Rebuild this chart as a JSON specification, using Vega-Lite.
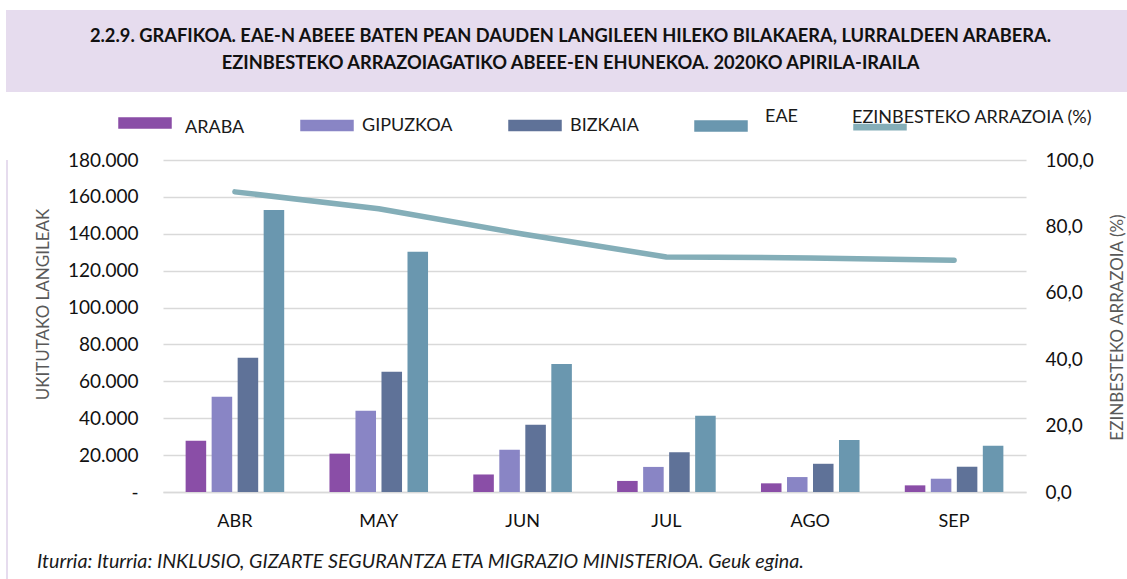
{
  "$schema": "https://vega.github.io/schema/vega-lite/v6.json",
  "padding": {"left": 6, "top": 10, "right": 0, "bottom": 0},
  "background": "white",
  "spacing": 4,
  "columns": 1,
  "align": "none",
  "resolve": {"scale": {"color": "independent"}, "legend": {"color": "independent"}},
  "config": {
    "font": "Lato",
    "view": {"stroke": null},
    "axis": {"labelFont": "Lato", "titleFont": "Lato"},
    "legend": {"labelFont": "Lato"}
  },
  "datasets": {
    "bars": [
      {"mes": "ABR", "serie": "ARABA", "valor": 27800},
      {"mes": "ABR", "serie": "GIPUZKOA", "valor": 51700},
      {"mes": "ABR", "serie": "BIZKAIA", "valor": 72800},
      {"mes": "ABR", "serie": "EAE", "valor": 152900},
      {"mes": "MAY", "serie": "ARABA", "valor": 20800},
      {"mes": "MAY", "serie": "GIPUZKOA", "valor": 44100},
      {"mes": "MAY", "serie": "BIZKAIA", "valor": 65200},
      {"mes": "MAY", "serie": "EAE", "valor": 130300},
      {"mes": "JUN", "serie": "ARABA", "valor": 9500},
      {"mes": "JUN", "serie": "GIPUZKOA", "valor": 22900},
      {"mes": "JUN", "serie": "BIZKAIA", "valor": 36500},
      {"mes": "JUN", "serie": "EAE", "valor": 69400},
      {"mes": "JUL", "serie": "ARABA", "valor": 6000},
      {"mes": "JUL", "serie": "GIPUZKOA", "valor": 13600},
      {"mes": "JUL", "serie": "BIZKAIA", "valor": 21500},
      {"mes": "JUL", "serie": "EAE", "valor": 41400},
      {"mes": "AGO", "serie": "ARABA", "valor": 4700},
      {"mes": "AGO", "serie": "GIPUZKOA", "valor": 8100},
      {"mes": "AGO", "serie": "BIZKAIA", "valor": 15300},
      {"mes": "AGO", "serie": "EAE", "valor": 28200},
      {"mes": "SEP", "serie": "ARABA", "valor": 3600},
      {"mes": "SEP", "serie": "GIPUZKOA", "valor": 7200},
      {"mes": "SEP", "serie": "BIZKAIA", "valor": 13700},
      {"mes": "SEP", "serie": "EAE", "valor": 25100}
    ],
    "pct": [
      {"mes": "ABR", "pct": 90.4},
      {"mes": "MAY", "pct": 85.3},
      {"mes": "JUN", "pct": 77.7},
      {"mes": "JUL", "pct": 70.8},
      {"mes": "AGO", "pct": 70.5},
      {"mes": "SEP", "pct": 69.8}
    ]
  },
  "concat": [
    {
      "width": 1121,
      "height": 82,
      "view": {"fill": "#E6DCEE", "stroke": null},
      "data": {"values": [{"t": "2.2.9. GRAFIKOA. EAE-N ABEEE BATEN PEAN DAUDEN LANGILEEN HILEKO BILAKAERA, LURRALDEEN ARABERA.\nEZINBESTEKO ARRAZOIAGATIKO ABEEE-EN EHUNEKOA. 2020KO APIRILA-IRAILA"}]},
      "mark": {"type": "text", "font": "Lato", "fontWeight": "bold", "fontSize": 18.3, "lineHeight": 27, "lineBreak": "\n", "baseline": "middle", "align": "center", "color": "#111111", "dy": -14, "dx": 4},
      "encoding": {"text": {"field": "t", "type": "nominal"}}
    },
    {
      "hconcat": [
        {
          "width": 2,
          "height": 419,
          "view": {"fill": "#E6DCEE", "stroke": null},
          "data": {"values": []},
          "mark": "point"
        },
        {
          "width": 863,
          "height": 332,
          "title": {
            "text": "Iturria: Iturria: INKLUSIO, GIZARTE SEGURANTZA ETA MIGRAZIO MINISTERIOA. Geuk egina.",
            "orient": "bottom", "anchor": "start", "frame": "bounds", "dx": 3, "offset": 22,
            "font": "Lato", "fontSize": 19.7, "fontStyle": "italic", "fontWeight": "normal", "color": "#1a1a1a"
          },
          "layer": [
            {
              "data": {"name": "bars"},
              "mark": {"type": "bar"},
              "encoding": {
                "x": {
                  "field": "mes", "type": "nominal",
                  "sort": ["ABR", "MAY", "JUN", "JUL", "AGO", "SEP"],
                  "scale": {"paddingInner": 0, "paddingOuter": 0},
                  "axis": {"title": null, "labelAngle": 0, "labelFontSize": 18, "labelColor": "#111111", "labelPadding": 20, "ticks": false, "domain": true, "domainColor": "#D9D9D9", "domainWidth": 1.5, "grid": false}
                },
                "xOffset": {
                  "field": "serie", "type": "nominal",
                  "sort": ["ARABA", "GIPUZKOA", "BIZKAIA", "EAE"],
                  "scale": {"paddingInner": 0.21, "paddingOuter": 0.87}
                },
                "y": {
                  "field": "valor", "type": "quantitative",
                  "scale": {"domain": [0, 180000], "nice": false},
                  "axis": {
                    "orient": "left",
                    "values": [0, 20000, 40000, 60000, 80000, 100000, 120000, 140000, 160000, 180000],
                    "labelExpr": "datum.value == 0 ? '-' : replace(format(datum.value, ',.0f'), ',', '.')",
                    "labelFontSize": 19, "labelColor": "#111111", "labelPadding": 25,
                    "ticks": false, "domain": false,
                    "grid": true, "gridColor": "#D9D9D9", "gridWidth": 1.5,
                    "title": "UKITUTAKO LANGILEAK",
                    "titleFontSize": 17, "titleFontWeight": "normal", "titleColor": "#595959",
                    "titleAngle": 270, "titleBaseline": "middle", "titleAlign": "center",
                    "titleX": -120, "titleY": 144
                  }
                },
                "color": {
                  "field": "serie", "type": "nominal",
                  "scale": {
                    "domain": ["ARABA", "GIPUZKOA", "BIZKAIA", "EAE", "EZINBESTEKO ARRAZOIA (%)"],
                    "range": ["#8A4EA7", "#8985C5", "#5F7298", "#6A97AF", "#84AEB8"]
                  },
                  "legend": {
                    "title": null,
                    "orient": "none",
                    "direction": "horizontal",
                    "legendX": -45,
                    "legendY": -64,
                    "padding": 0,
                    "symbolType": "M-1,-0.19H1V0.19H-1Z",
                    "symbolSize": 2704,
                    "labelFontSize": 18,
                    "labelColor": "#1a1a1a",
                    "labelOffset": 8,
                    "labelLimit": 400,
                    "columnPadding": 53,
                    "encode": {
                      "symbols": {
                        "update": {
                          "fill": {"scale": "color", "field": "value"},
                          "stroke": {"value": "transparent"},
                          "opacity": {"value": 1},
                          "shape": [
                            {"test": "datum.value === 'EZINBESTEKO ARRAZOIA (%)'", "value": "M-1,-0.1H1V0.1H-1Z"},
                            {"value": "M-1,-0.19H1V0.19H-1Z"}
                          ]
                        }
                      },
                      "labels": {
                        "update": {
                          "dy": [
                            {"test": "datum.value === 'ARABA'", "value": 5},
                            {"test": "datum.value === 'EAE' || datum.value === 'EZINBESTEKO ARRAZOIA (%)'", "value": -9},
                            {"value": 0}
                          ],
                          "dx": [
                            {"test": "datum.value === 'ARABA'", "value": 5},
                            {"test": "datum.value === 'EAE'", "value": 9},
                            {"test": "datum.value === 'EZINBESTEKO ARRAZOIA (%)'", "value": -63},
                            {"value": 0}
                          ]
                        }
                      }
                    }
                  }
                }
              }
            },
            {
              "data": {"name": "pct"},
              "mark": {"type": "line", "strokeWidth": 5.5, "strokeCap": "round", "strokeJoin": "round"},
              "encoding": {
                "x": {"field": "mes", "type": "nominal", "sort": ["ABR", "MAY", "JUN", "JUL", "AGO", "SEP"]},
                "y": {
                  "field": "pct", "type": "quantitative",
                  "scale": {"domain": [0, 100], "nice": false},
                  "axis": {
                    "orient": "right",
                    "values": [0, 20, 40, 60, 80, 100],
                    "labelExpr": "replace(format(datum.value, '.1f'), '.', ',')",
                    "labelFontSize": 19, "labelColor": "#111111", "labelPadding": 19,
                    "ticks": false, "domain": false, "grid": false,
                    "title": "EZINBESTEKO ARRAZOIA (%)",
                    "titleFontSize": 17, "titleFontWeight": "normal", "titleColor": "#595959",
                    "titleAngle": 270, "titleBaseline": "middle", "titleAlign": "center",
                    "titleX": 91, "titleY": 167
                  }
                },
                "color": {"datum": "EZINBESTEKO ARRAZOIA (%)"}
              }
            }
          ],
          "resolve": {"scale": {"y": "independent"}, "axis": {"y": "independent"}}
        }
      ],
      "spacing": 26,
      "resolve": {"scale": {"color": "independent"}, "legend": {"color": "independent"}}
    }
  ]
}
